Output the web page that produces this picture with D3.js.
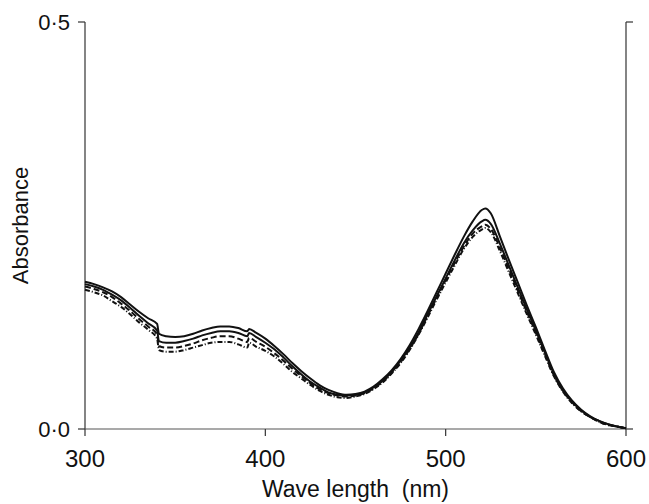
<!DOCTYPE html>
<html>
<head>
<meta charset="utf-8">
<script src="https://cdn.jsdelivr.net/npm/d3@7"></script>
<style>
  body { margin: 0; background: #fff; }
  svg { display: block; }
  text { font-family: "Liberation Sans", Arial, sans-serif; fill: #111; }
</style>
</head>
<body>
<svg id="chart"></svg>
<script>
const width = 649;
const height = 504;

// wavelength (nm) and absorbance
const wavelengths = [300, 305, 310, 315, 320, 325, 330, 335, 340, 341,
  345, 350, 355, 360, 365, 370, 375, 380, 385, 390, 391,
  395, 400, 405, 410, 415, 420, 425, 430, 435, 440, 445,
  450, 455, 460, 465, 470, 475, 480, 485, 490, 495, 500, 505, 510, 515, 520, 522,
  525, 530, 535, 540, 545, 550, 555, 560, 565, 570, 575, 580, 585, 590, 595, 600];

const absA = [0.181, 0.178, 0.174, 0.169, 0.162, 0.153, 0.144, 0.136, 0.129, 0.117,
  0.114, 0.113, 0.114, 0.117, 0.121, 0.124, 0.126, 0.126, 0.124, 0.120, 0.123,
  0.118, 0.111, 0.102, 0.092, 0.081, 0.071, 0.062, 0.054, 0.048, 0.044, 0.042,
  0.043, 0.046, 0.052, 0.061, 0.072, 0.086, 0.103, 0.123, 0.145, 0.168, 0.191, 0.214, 0.236, 0.255, 0.269, 0.271,
  0.265, 0.237, 0.208, 0.180, 0.152, 0.125, 0.097, 0.070, 0.050, 0.035, 0.024, 0.016, 0.010, 0.006, 0.003, 0.001];

const absB = [0.178, 0.175, 0.171, 0.165, 0.158, 0.149, 0.139, 0.130, 0.121, 0.108,
  0.106, 0.106, 0.108, 0.111, 0.115, 0.118, 0.120, 0.120, 0.118, 0.114, 0.118,
  0.113, 0.106, 0.098, 0.088, 0.077, 0.067, 0.058, 0.051, 0.045, 0.042, 0.041,
  0.042, 0.045, 0.051, 0.059, 0.070, 0.084, 0.100, 0.119, 0.141, 0.163, 0.185, 0.207, 0.228, 0.244, 0.255, 0.257,
  0.252, 0.228, 0.201, 0.174, 0.147, 0.121, 0.094, 0.068, 0.048, 0.034, 0.023, 0.015, 0.010, 0.006, 0.003, 0.001];

const absC = [0.175, 0.172, 0.168, 0.162, 0.154, 0.145, 0.135, 0.126, 0.116, 0.102,
  0.100, 0.100, 0.102, 0.105, 0.109, 0.112, 0.114, 0.114, 0.111, 0.107, 0.112,
  0.107, 0.101, 0.093, 0.084, 0.074, 0.065, 0.056, 0.049, 0.044, 0.041, 0.040,
  0.041, 0.044, 0.050, 0.058, 0.069, 0.082, 0.098, 0.117, 0.139, 0.161, 0.183, 0.204, 0.224, 0.240, 0.249, 0.251,
  0.246, 0.223, 0.197, 0.170, 0.144, 0.118, 0.092, 0.066, 0.047, 0.033, 0.022, 0.015, 0.009, 0.005, 0.003, 0.001];

const absD = [0.171, 0.168, 0.164, 0.157, 0.150, 0.141, 0.131, 0.122, 0.111, 0.097,
  0.095, 0.095, 0.097, 0.100, 0.103, 0.106, 0.107, 0.107, 0.104, 0.100, 0.106,
  0.101, 0.096, 0.089, 0.080, 0.070, 0.062, 0.054, 0.047, 0.042, 0.039, 0.038,
  0.040, 0.043, 0.049, 0.057, 0.068, 0.081, 0.097, 0.116, 0.137, 0.159, 0.180, 0.201, 0.221, 0.236, 0.245, 0.247,
  0.242, 0.219, 0.193, 0.167, 0.141, 0.116, 0.090, 0.065, 0.046, 0.032, 0.022, 0.015, 0.009, 0.005, 0.003, 0.001];

const xTicks = [300, 400, 500, 600];
const yTicks = [0, 0.5];
const yTickLabels = ["0·0", "0·5"];

const series = [
  { values: absA, dash: null },
  { values: absB, dash: null },
  { values: absC, dash: "6,3" },
  { values: absD, dash: "5,2,1,2" }
];

const svg = d3.select("#chart")
  .attr("width", width)
  .attr("height", height);

const x = d3.scaleLinear().domain([300, 600]).range([85, 626]);
const y = d3.scaleLinear().domain([0, 0.5]).range([429, 22]);

// frame: left and right verticals, bottom line
const axisColor = "#333";
svg.append("line")
  .attr("x1", x(300)).attr("x2", x(300))
  .attr("y1", y(0.5)).attr("y2", y(0))
  .attr("stroke", axisColor).attr("stroke-width", 1.2);
svg.append("line")
  .attr("x1", x(600)).attr("x2", x(600))
  .attr("y1", y(0.5)).attr("y2", y(0))
  .attr("stroke", axisColor).attr("stroke-width", 1.2);
svg.append("line")
  .attr("x1", x(300)).attr("x2", x(600))
  .attr("y1", y(0)).attr("y2", y(0))
  .attr("stroke", "#555").attr("stroke-width", 1.2);

// x ticks (down)
svg.selectAll("line.xtick")
  .data(xTicks)
  .join("line")
  .attr("class", "xtick")
  .attr("x1", d => x(d)).attr("x2", d => x(d))
  .attr("y1", y(0)).attr("y2", y(0) + 7)
  .attr("stroke", axisColor).attr("stroke-width", 1.2);

svg.selectAll("text.xlabel")
  .data(xTicks)
  .join("text")
  .attr("class", "xlabel")
  .attr("x", d => x(d))
  .attr("y", 467)
  .attr("text-anchor", "middle")
  .attr("font-size", 24)
  .text(d => d);

// y ticks, outward on both sides
svg.selectAll("line.ytick")
  .data(yTicks)
  .join("line")
  .attr("class", "ytick")
  .attr("x1", x(300) - 7).attr("x2", x(300))
  .attr("y1", d => y(d)).attr("y2", d => y(d))
  .attr("stroke", axisColor).attr("stroke-width", 1.2);

svg.selectAll("line.ytickr")
  .data(yTicks)
  .join("line")
  .attr("class", "ytickr")
  .attr("x1", x(600)).attr("x2", x(600) + 7)
  .attr("y1", d => y(d)).attr("y2", d => y(d))
  .attr("stroke", axisColor).attr("stroke-width", 1.2);

svg.selectAll("text.ylabel")
  .data(yTicks)
  .join("text")
  .attr("class", "ylabel")
  .attr("x", 70)
  .attr("y", d => y(d) + 8)
  .attr("text-anchor", "end")
  .attr("font-size", 22)
  .text((d, i) => yTickLabels[i]);

// axis titles
svg.append("text")
  .attr("x", (x(300) + x(600)) / 2)
  .attr("y", 497)
  .attr("text-anchor", "middle")
  .attr("font-size", 23)
  .attr("xml:space", "preserve")
  .text("Wave length  (nm)");

svg.append("text")
  .attr("transform", `translate(28,${(y(0) + y(0.5)) / 2}) rotate(-90)`)
  .attr("text-anchor", "middle")
  .attr("font-size", 22)
  .text("Absorbance");

// spectra
const line = d3.line()
  .x((d, i) => x(wavelengths[i]))
  .y(d => y(d))
  .curve(d3.curveMonotoneX);

svg.selectAll("path.spectrum")
  .data(series)
  .join("path")
  .attr("class", "spectrum")
  .attr("fill", "none")
  .attr("stroke", "#111")
  .attr("stroke-width", 2)
  .attr("stroke-dasharray", d => d.dash)
  .attr("d", d => line(d.values));
</script>
</body>
</html>
